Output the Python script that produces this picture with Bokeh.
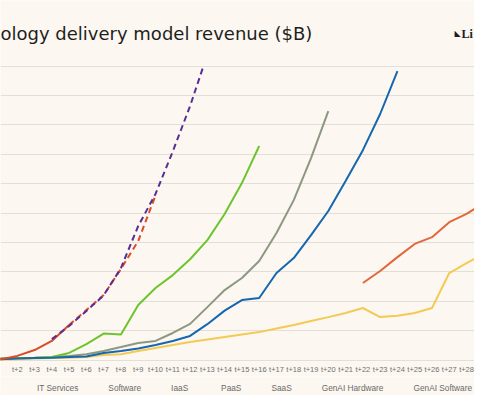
import numpy as np
from bokeh.plotting import figure
from bokeh.layouts import column
from bokeh.models import Range1d, FixedTicker, SingleIntervalTicker, Legend, LegendItem, Label
from bokeh.embed import file_html
from bokeh.resources import INLINE

nan = float("nan")

# ---- data (units: one gridline step) ----
periods = ["t+1", "t+2", "t+3", "t+4", "t+5", "t+6", "t+7", "t+8", "t+9", "t+10",
           "t+11", "t+12", "t+13", "t+14", "t+15", "t+16", "t+17", "t+18", "t+19", "t+20",
           "t+21", "t+22", "t+23", "t+24", "t+25", "t+26", "t+27", "t+28", "t+29"]

it_services = [nan, nan, nan, nan, nan, nan, nan, nan, nan, nan,
               nan, nan, nan, nan, nan, nan, nan, nan, nan, nan,
               nan, 2.62, 3.03, 3.50, 3.95, 4.18, 4.69, 4.97, 5.34]

software = [0.02, 0.03, 0.05, 0.07, 0.08, 0.10, 0.17, 0.20, 0.31, 0.41,
            0.51, 0.61, 0.70, 0.78, 0.87, 0.95, 1.07, 1.19, 1.33, 1.46,
            1.60, 1.77, 1.46, 1.51, 1.60, 1.77, 2.96, 3.30, 3.60]

iaas = [0.05, 0.07, 0.08, 0.10, 0.14, 0.20, 0.31, 0.44, 0.58, 0.65,
        0.92, 1.23, 1.80, 2.38, 2.79, 3.37, 4.32, 5.44, 6.87, 8.47,
        nan, nan, nan, nan, nan, nan, nan, nan, nan]

paas = [0.05, 0.07, 0.08, 0.10, 0.24, 0.54, 0.90, 0.87, 1.87, 2.45,
        2.89, 3.43, 4.08, 4.97, 6.02, 7.28,
        nan, nan, nan, nan, nan, nan, nan, nan, nan, nan, nan, nan, nan]

saas = [0.03, 0.05, 0.07, 0.08, 0.10, 0.12, 0.24, 0.31, 0.39, 0.51,
        0.65, 0.82, 1.22, 1.68, 2.04, 2.11, 2.96, 3.47, 4.25, 5.07,
        6.09, 7.14, 8.37, 9.83,
        nan, nan, nan, nan, nan]

genai_hardware = [nan, nan, nan, 0.71, 1.16, 1.67, 2.20, 3.13, 4.56, 5.65,
                  7.10, 8.64, 10.40,
                  nan, nan, nan, nan, nan, nan, nan, nan, nan, nan, nan, nan, nan, nan, nan, nan]

genai_software = [0.02, 0.14, 0.34, 0.65, 1.19, 1.70, 2.21, 3.10, 4.05, 5.60,
                  nan, nan, nan, nan, nan, nan, nan, nan, nan, nan,
                  nan, nan, nan, nan, nan, nan, nan, nan, nan]
genai_software_last_actual = "t+5"   # solid up to here, dashed projection after

title_text = "ology delivery model revenue ($B)"
logo_text = "Li"
series_names = ["IT Services", "Software", "IaaS", "PaaS", "SaaS", "GenAI Hardware", "GenAI Software"]

# ---- styling ----
BG = "#FCF7F0"
GRID = "#E2DED8"
colors = {
    "IT Services": "#E2673B",
    "Software": "#F3CA55",
    "IaaS": "#8D9883",
    "PaaS": "#6DC52C",
    "SaaS": "#1467B0",
    "GenAI Hardware": "#5B2D94",
    "GenAI Software": "#D84A2A",
}
W = 474


def bare(height):
    f = figure(frame_width=W, frame_height=height, output_backend="svg", toolbar_location=None,
               x_range=Range1d(0, 1), y_range=Range1d(0, 1),
               min_border_left=0, min_border_right=0, min_border_top=0, min_border_bottom=0)
    f.axis.visible = False
    f.grid.visible = False
    f.background_fill_color = BG
    f.border_fill_color = BG
    f.outline_line_color = None
    return f


# ---- header (title + logo) ----
HEADER_H = 65
head = bare(HEADER_H)
head.add_layout(Label(x=0, y=HEADER_H - 33, x_units="screen", y_units="screen", text=title_text,
                      text_font="DejaVu Sans", text_font_size="18px", text_baseline="middle",
                      text_color="#1e1e1e"))
head.add_layout(Label(x=454, y=HEADER_H - 33, x_units="screen", y_units="screen", text="◣",
                      text_font="DejaVu Sans", text_font_size="8px", text_baseline="middle",
                      text_color="#1e1e1e"))
head.add_layout(Label(x=461, y=HEADER_H - 33, x_units="screen", y_units="screen", text=logo_text,
                      text_font="Liberation Serif", text_font_style="bold", text_font_size="12px",
                      text_baseline="middle", text_color="#1e1e1e"))

# ---- main chart ----
x = np.arange(1, len(periods) + 1, dtype=float)

p = figure(frame_width=W, frame_height=296, output_backend="svg", toolbar_location=None,
           x_range=Range1d(1.029, 28.46), y_range=Range1d(-0.05, 10.02),
           min_border_left=0, min_border_right=0, min_border_top=0, min_border_bottom=0)
p.background_fill_color = BG
p.border_fill_color = BG
p.outline_line_color = None

p.xgrid.grid_line_color = None
p.ygrid.grid_line_color = GRID
p.ygrid.grid_line_width = 1
p.ygrid.ticker = SingleIntervalTicker(interval=1)
p.yaxis.visible = False

p.xaxis.ticker = FixedTicker(ticks=list(x))
p.xaxis.major_label_overrides = {float(v): lab for v, lab in zip(x, periods)}
p.xaxis.axis_line_color = None
p.xaxis.major_tick_line_color = None
p.xaxis.minor_tick_line_color = None
p.xaxis.major_tick_out = 0
p.xaxis.major_tick_in = 0
p.xaxis.major_label_text_font = "Liberation Sans"
p.xaxis.major_label_text_font_size = "7.5px"
p.xaxis.major_label_text_color = "#707070"
p.xaxis.major_label_standoff = 3

LW = 2
p.line(x, np.array(it_services), line_width=LW, color=colors["IT Services"])
p.line(x, np.array(software), line_width=LW, color=colors["Software"])
p.line(x, np.array(iaas), line_width=LW, color=colors["IaaS"])
p.line(x, np.array(paas), line_width=LW, color=colors["PaaS"])
p.line(x, np.array(saas), line_width=LW, color=colors["SaaS"])

gs = np.array(genai_software)
k = periods.index(genai_software_last_actual)
p.line(x[:k + 1], gs[:k + 1], line_width=LW, color=colors["GenAI Software"])
p.line(x[k:], gs[k:], line_width=LW, color=colors["GenAI Software"], line_dash="6 4")
p.line(x, np.array(genai_hardware), line_width=LW, color=colors["GenAI Hardware"], line_dash="6 4")

# ---- footer legend ----
FOOT_H = 19
foot = bare(FOOT_H)
items = []
for name in series_names:
    r = foot.line([], [], line_width=LW, color=colors[name])
    items.append(LegendItem(label=name, renderers=[r]))
legend = Legend(items=items, orientation="horizontal", location=(18, 2))
legend.background_fill_alpha = 0
legend.border_line_color = None
legend.label_text_font = "Liberation Sans"
legend.label_text_font_size = "8.3px"
legend.label_text_color = "#6a6a6a"
legend.glyph_width = 17
legend.glyph_height = 9
legend.label_height = 9
legend.label_standoff = 2
legend.spacing = 11
legend.padding = 0
legend.margin = 0
foot.add_layout(legend, "center")

layout = column(head, p, foot, spacing=0)

open("out.html", "w").write(file_html(layout, INLINE))
